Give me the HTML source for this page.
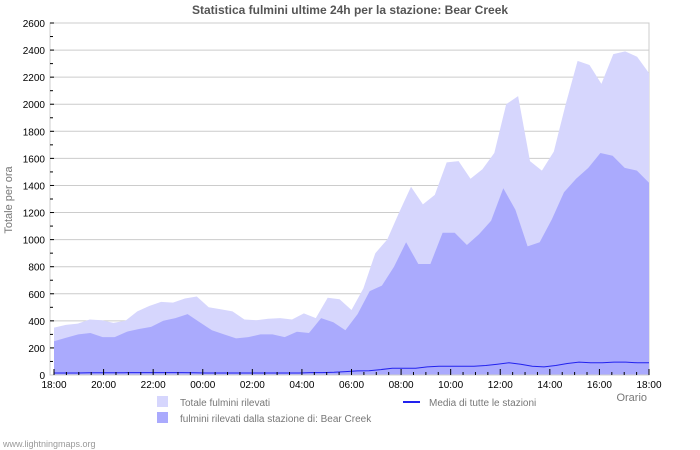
<!DOCTYPE html>
<html><head><meta charset="utf-8"><style>body{margin:0;background:#fff}svg{display:block;font-family:"Liberation Sans","DejaVu Sans",sans-serif}</style></head>
<body><svg id="c" width="700" height="450" xmlns="http://www.w3.org/2000/svg"></svg>
<script>
const tot=[350,370,380,410,405,385,400,470,510,540,535,565,580,500,485,470,410,405,415,420,410,455,420,570,560,480,640,900,1000,1200,1390,1260,1330,1570,1580,1450,1520,1640,2000,2060,1580,1510,1650,2000,2320,2290,2150,2370,2390,2350,2230];
const sta=[250,275,300,310,280,280,320,340,355,400,420,450,390,330,300,270,280,300,300,280,320,310,420,390,330,450,620,660,800,980,820,820,1050,1050,960,1040,1140,1380,1220,950,980,1150,1350,1450,1530,1640,1620,1530,1510,1420];
const avg=[15,15,15,16,16,17,17,18,18,18,18,18,16,15,15,15,15,15,15,15,15,15,18,18,20,25,30,32,40,50,50,50,60,65,65,65,65,70,80,90,80,65,60,70,85,95,90,90,95,95,90,90];
const X=t=>54+t*595/24, Y=v=>375-v*352/2600;
let s='';
s+='<text x="350" y="14" text-anchor="middle" font-size="12" font-weight="bold" fill="#555">Statistica fulmini ultime 24h per la stazione: Bear Creek</text>';
s+='<rect x="50" y="23" width="599" height="352" fill="none" stroke="#ccc"/>';
for(let v=0;v<=2600;v+=200){const y=Y(v);s+=`<line x1="50" x2="649" y1="${y}" y2="${y}" stroke="#ccc"/>`;s+=`<text x="45" y="${y+4}" text-anchor="end" font-size="10" fill="#000">${v}</text>`;s+=`<line x1="50" x2="54" y1="${y}" y2="${y}" stroke="#000"/>`;if(v<2600)s+=`<line x1="50" x2="53" y1="${Y(v+100)}" y2="${Y(v+100)}" stroke="#000"/>`;}
function area(d,c){let n=d.length,p=`M${X(0)},375 `;d.forEach((v,i)=>p+=`L${X(i*24/(n-1)).toFixed(1)},${Y(v).toFixed(1)} `);p+=`L${X(24)},375Z`;return `<path d="${p}" fill="${c}"/>`;}
s+=area(tot,'#d6d6fd');s+=area(sta,'#aaaafd');
let p='';const n=avg.length;avg.forEach((v,i)=>p+=(i?'L':'M')+X(i*24/(n-1)).toFixed(1)+','+Y(v).toFixed(1));
s+=`<path d="${p}" fill="none" stroke="#2222ee" stroke-width="1"/>`;
s+='<line x1="50" x2="649" y1="375" y2="375" stroke="#ccc"/>';
const lab=['18:00','20:00','22:00','00:00','02:00','04:00','06:00','08:00','10:00','12:00','14:00','16:00','18:00'];
for(let h=0;h<=48;h++){const x=X(h/2);const maj=h%4==0;s+=`<line x1="${x}" x2="${x}" y1="${maj?369:372}" y2="375" stroke="#000"/>`;}
lab.forEach((l,i)=>s+=`<text x="${X(i*2)}" y="388" text-anchor="middle" font-size="10">${l}</text>`);
s+='<text x="647" y="401" text-anchor="end" font-size="11" fill="#777">Orario</text>';
s+='<text transform="translate(12,200) rotate(-90)" text-anchor="middle" font-size="11" fill="#777">Totale per ora</text>';
s+='<rect x="157" y="396" width="11" height="11" fill="#d6d6fd"/><text x="180" y="406" font-size="10" fill="#777">Totale fulmini rilevati</text>';
s+='<rect x="157" y="412" width="11" height="11" fill="#aaaafd"/><text x="180" y="422" font-size="10" fill="#777">fulmini rilevati dalla stazione di: Bear Creek</text>';
s+='<line x1="403" x2="420" y1="402" y2="402" stroke="#2222ee" stroke-width="2"/><text x="429" y="406" font-size="10" fill="#777">Media di tutte le stazioni</text>';
s+='<text x="3" y="447" font-size="9" fill="#999">www.lightningmaps.org</text>';
document.getElementById('c').innerHTML=s;
</script></body></html>
